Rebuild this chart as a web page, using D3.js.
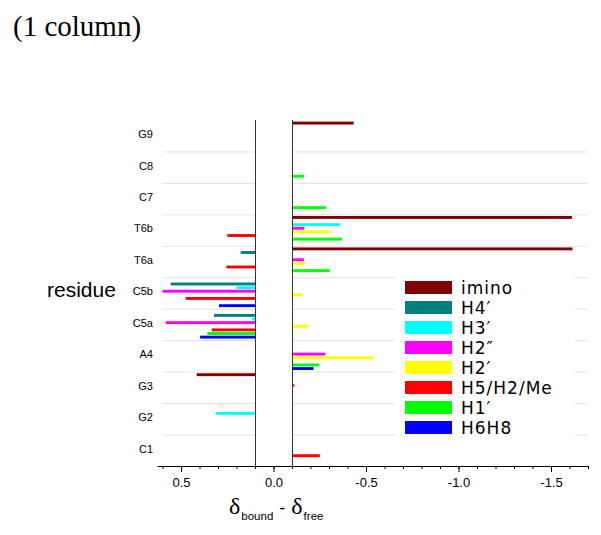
<!DOCTYPE html>
<html>

<head>
    <meta charset="utf-8" />
    <title>Chemical shift differences</title>
    <script type="text/javascript" src="https://cdn.jsdelivr.net/npm/d3@7"></script>
    <style>
        body { margin: 0; background: #fff; }
        text { font-family: Arial, "Liberation Sans", sans-serif; }
    </style>
</head>

<body>
    <script type="text/javascript">
        // residues, top to bottom
        var residues = ["G9", "C8", "C7", "T6b", "T6a", "C5b", "C5a", "A4", "G3", "G2", "C1"];

        // shift values (0 = no bar); bars start at +/- cutoff
        var imino    = [-0.433, 0, 0, -1.613, -1.616, 0, 0, 0, 0.415, 0, 0];
        var h4p      = [0, 0, 0, 0, 0.178, 0.556, 0.322, 0, 0, -0.105, 0];
        var h3p      = [0, 0, 0, -0.361, 0, 0.2, 0.118, 0, 0, 0.313, 0];
        var h2pp     = [0, 0, 0, -0.167, -0.164, 0.60, 0.583, -0.28, -0.113, 0, 0];
        var h2p      = [0, 0, 0, -0.311, -0.169, -0.156, -0.187, -0.541, 0, 0, 0];
        var h5h2me   = [0, 0, 0, 0.25, 0.255, 0.475, 0.334, 0, 0, 0, -0.25];
        var h1p      = [0, -0.166, -0.284, -0.369, -0.304, 0, 0.358, -0.247, 0, 0, 0];
        var h6h8     = [0, 0, 0, -0.102, 0, 0.295, 0.397, -0.216, 0, 0, 0];

        var seriesNames = ["imino", "H4\u2032", "H3\u2032", "H2\u2033", "H2\u2032", "H5/H2/Me", "H1\u2032", "H6H8"];
        var seriesValues = [imino, h4p, h3p, h2pp, h2p, h5h2me, h1p, h6h8];
        var seriesColors = ["#800000", "#008080", "#00ffff", "#ff00ff", "#ffff00", "#ff0000", "#00ff00", "#0000ff"];

        var majorTicks = [0.5, 0, -0.5, -1.0, -1.5];
        var cutoff = 0.1;

        var width = 601,
            height = 535;

        var svg = d3.select("body").append("svg")
            .attr("width", width)
            .attr("height", height);

        var x = d3.scaleLinear().domain([0.63, -1.7]).range([157, 588]);
        var y = d3.scaleBand().domain(residues).range([120, 466]);
        var ySub = d3.scaleBand().domain(d3.range(seriesNames.length))
            .range([0, y.bandwidth()])
            .paddingInner(0.2)
            .paddingOuter(0.45);

        // title
        svg.append("text")
            .attr("x", 13)
            .attr("y", 36)
            .style("font-family", "'Liberation Serif', 'Times New Roman', serif")
            .style("font-size", "29px")
            .text("(1 column)");

        // gridlines between residues, broken at the gap
        var gridG = svg.append("g").attr("class", "grid");
        residues.slice(1).forEach(function (r) {
            [[0.6, cutoff], [-cutoff, -1.7]].forEach(function (seg) {
                gridG.append("line")
                    .attr("x1", x(seg[0]))
                    .attr("x2", x(seg[1]))
                    .attr("y1", y(r) + 0.5)
                    .attr("y2", y(r) + 0.5)
                    .attr("stroke", "#e2e2e2")
                    .attr("stroke-width", 1);
            });
        });

        // bars
        var bars = [];
        residues.forEach(function (r, i) {
            seriesValues.forEach(function (vals, j) {
                if (vals[i] !== 0) bars.push({ residue: r, series: j, value: vals[i] });
            });
        });

        svg.append("g").attr("class", "bars")
            .selectAll("rect")
            .data(bars)
            .enter().append("rect")
            .attr("x", function (d) { return d.value > 0 ? x(d.value) : x(-cutoff); })
            .attr("width", function (d) {
                return d.value > 0 ? x(cutoff) - x(d.value) : x(d.value) - x(-cutoff);
            })
            .attr("y", function (d) { return y(d.residue) + ySub(d.series); })
            .attr("height", ySub.bandwidth())
            .attr("fill", function (d) { return seriesColors[d.series]; });

        // the two baselines
        [cutoff, -cutoff].forEach(function (v) {
            svg.append("line")
                .attr("x1", Math.round(x(v)) + 0.5)
                .attr("x2", Math.round(x(v)) + 0.5)
                .attr("y1", 120)
                .attr("y2", 466)
                .attr("stroke", "#333")
                .attr("stroke-width", 1);
        });

        // residue labels
        svg.append("g").attr("class", "ylabels")
            .selectAll("text")
            .data(residues)
            .enter().append("text")
            .attr("x", 153)
            .attr("y", function (d) { return y(d) + y.bandwidth() / 2 - 1.5; })
            .attr("dy", "0.35em")
            .attr("text-anchor", "end")
            .style("font-size", "11px")
            .text(function (d) { return d; });

        svg.append("text")
            .attr("x", 47)
            .attr("y", 297)
            .style("font-size", "21px")
            .text("residue");

        // x axis: minor ticks then labelled major ticks
        var fmt = function (d) { return d3.format(".1f")(d).replace("\u2212", "-"); };

        svg.append("g")
            .attr("transform", "translate(0,466)")
            .call(d3.axisBottom(x).ticks(20).tickSize(3).tickSizeOuter(0).tickFormat(""))
            .call(function (g) { g.selectAll("line, path").attr("stroke", "#000"); });

        var axisG = svg.append("g")
            .attr("transform", "translate(0,466)")
            .call(d3.axisBottom(x).tickValues(majorTicks).tickSize(6).tickSizeOuter(0).tickPadding(6).tickFormat(fmt));
        axisG.select(".domain").remove();
        axisG.selectAll("line").attr("stroke", "#000");
        axisG.selectAll("text")
            .style("font-family", "Arial, 'Liberation Sans', sans-serif")
            .style("font-size", "13px");

        // axis title: delta_bound - delta_free
        var t = svg.append("text")
            .attr("x", 229)
            .attr("y", 514);
        t.append("tspan")
            .style("font-family", "'Liberation Serif', serif")
            .style("font-size", "24px")
            .text("\u03b4");
        t.append("tspan")
            .attr("dy", 6)
            .attr("dx", 1)
            .style("font-size", "11.5px")
            .text("bound");
        t.append("tspan")
            .attr("dy", -6)
            .attr("dx", 6)
            .style("font-size", "18px")
            .text("-");
        t.append("tspan")
            .attr("dx", 6)
            .style("font-family", "'Liberation Serif', serif")
            .style("font-size", "24px")
            .text("\u03b4");
        t.append("tspan")
            .attr("dy", 6)
            .attr("dx", 1)
            .style("font-size", "11.5px")
            .text("free");

        // legend
        var legend = svg.append("g").attr("class", "legend");
        legend.append("rect")
            .attr("x", 395)
            .attr("y", 271)
            .attr("width", 180)
            .attr("height", 170)
            .attr("fill", "#fff");

        var items = legend.selectAll("g.item")
            .data(seriesNames)
            .enter().append("g")
            .attr("class", "item")
            .attr("transform", function (d, i) { return "translate(405," + (281 + i * 20) + ")"; });

        items.append("rect")
            .attr("width", 47)
            .attr("height", 13)
            .attr("fill", function (d, i) { return seriesColors[i]; });

        items.append("text")
            .attr("x", 56)
            .attr("y", 12.5)
            .style("font-family", "'DejaVu Sans', sans-serif")
            .style("font-size", "17px")
            .style("letter-spacing", "1px")
            .text(function (d) { return d; });
    </script>
</body>

</html>
